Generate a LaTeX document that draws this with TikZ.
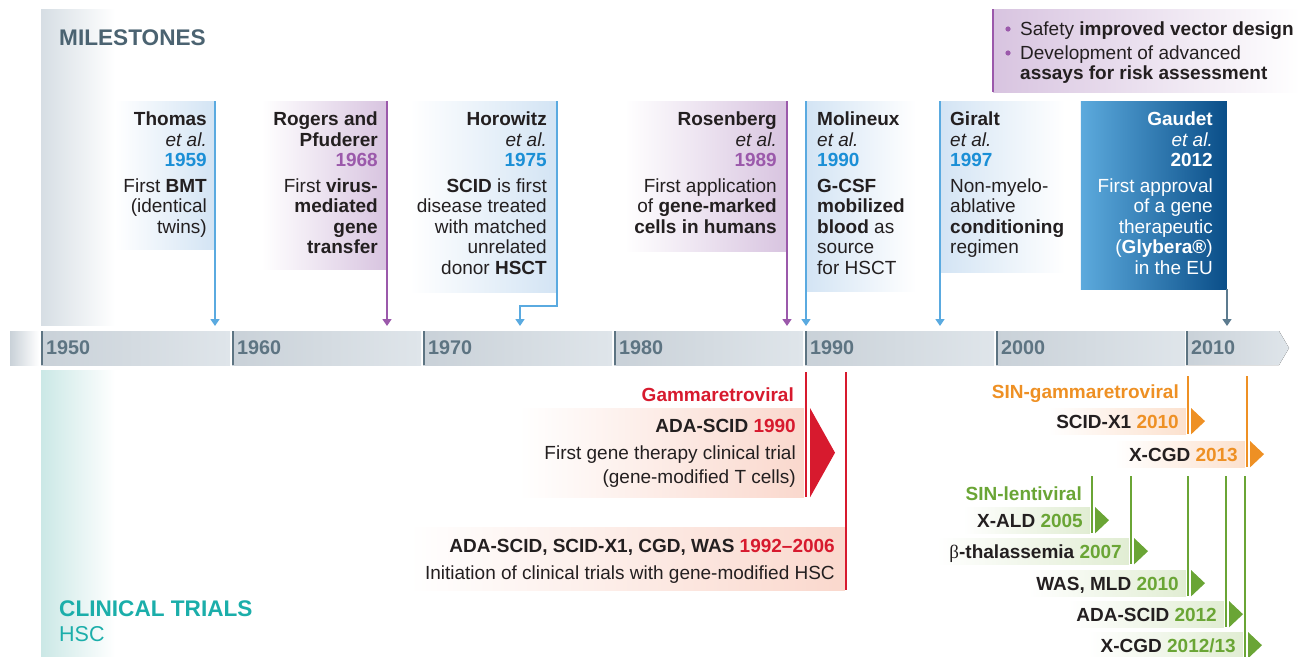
\documentclass[tikz,border=0pt]{standalone}
\usepackage{fontspec}
\setmainfont{Liberation Sans}
\newfontfamily\serifgreek{Liberation Serif}
\usepackage{xcolor}
\usetikzlibrary{calc}
\usetikzlibrary{arrows.meta}

\definecolor{msgray}{HTML}{D6DEE4}
\definecolor{mshead}{HTML}{4B6371}
\definecolor{msblue}{HTML}{5AAAE0}
\definecolor{msyear}{HTML}{1B8FD6}
\definecolor{msboxblue}{HTML}{D3E4F4}
\definecolor{mspurple}{HTML}{9B59AB}
\definecolor{msboxpurple}{HTML}{D8C4E0}
\definecolor{gaudetlight}{HTML}{5CAADD}
\definecolor{gaudetdark}{HTML}{0A4E88}
\definecolor{gaudetline}{HTML}{5C7B8F}
\definecolor{bargray}{HTML}{C9D1D8}
\definecolor{barlight}{HTML}{DFE5EA}
\definecolor{baryear}{HTML}{5D7482}
\definecolor{ctred}{HTML}{D71A2E}
\definecolor{ctsalmon}{HTML}{FAD8CD}
\definecolor{ctorange}{HTML}{EE9024}
\definecolor{ctpeach}{HTML}{FCE1CE}
\definecolor{ctgreen}{HTML}{6AA535}
\definecolor{ctlightgreen}{HTML}{E1EDD3}
\definecolor{ctteal}{HTML}{1BAEAA}
\definecolor{ctband}{HTML}{CBE8E6}
\definecolor{txt}{HTML}{231F20}

\begin{document}
\begin{tikzpicture}[x=1pt,y=-1pt,font=\fontsize{19}{20.5}\selectfont,text=txt]
\useasboundingbox (0,0) rectangle (1306,656);

\tikzset{
    msbox/.style = {
    inner sep=0pt,
    anchor=north east
    },
    msline/.style = {
    draw=#1,
    line width=1.6pt,
    -{Triangle[width=9pt,length=7pt]}
    }
}

\tikzstyle{mstext}=[inner sep=0pt, align=right, anchor=north east]
\tikzstyle{header}=[inner sep=0pt, anchor=west, font=\fontsize{22.6}{24}\selectfont\bfseries]
\tikzstyle{yearlbl}=[inner sep=0pt, anchor=west, text=baryear, font=\fontsize{19.8}{20}\selectfont\bfseries]
\tikzstyle{ctbox}=[inner sep=0pt, anchor=north east]
\tikzstyle{cttext}=[inner sep=0pt, align=right, font=\fontsize{19}{24}\selectfont]

\fill[left color=msgray, right color=white] (41,9) rectangle (115,325);
\fill[left color=ctband, right color=white] (41,370) rectangle (115,656);

\node[header, text=mshead] (milestones) at (59,38) {MILESTONES};
\node[header, text=ctteal] (clinical) at (59,609) {CLINICAL TRIALS};
\node[header, text=ctteal, font=\fontsize{21.5}{24}\selectfont] (hsc) at (59,634) {HSC};

\fill[left color=bargray, right color=white] (10,331) rectangle (39,365);
\foreach \yr [count=\k from 0] in {1950,1960,...,2000}{
    \fill[left color=bargray, right color=barlight] (41+191*\k,331) rectangle ++(189,34);
    \draw[baryear, line width=1.6pt] (41.8+191*\k,331) -- ++(0,34);
    \node[yearlbl] (y-\yr) at (46+191*\k,348) {\yr};
}
\fill[left color=bargray, right color=barlight] (1186,331) -- (1279,331) -- (1289,348) -- (1279,365) -- (1186,365) -- cycle;
\draw[baryear, line width=1.6pt] (1186.8,331) -- ++(0,34);
\node[yearlbl] (y-2010) at (1191,348) {2010};

\coordinate (t59) at (215,326);
\coordinate (t68) at (387,326);
\coordinate (t75) at (520,326);
\coordinate (t89) at (787,326);
\coordinate (t90) at (806,326);
\coordinate (t97) at (940,326);
\coordinate (t12) at (1227,326);

\node[msbox, left color=white, right color=msboxblue, minimum width=100, minimum height=148] (thomas) at (215,101) {};
\node[mstext] (thomas-txt) at ($(thomas.north east)+(-8,11)$) {\textbf{Thomas}\\\textit{et al.}\\\textbf{\textcolor{msyear}{1959}}\\[5pt]First \textbf{BMT}\\(identical\\twins)};
\draw[msline=msblue] (thomas.north east) -- (t59);

\node[msbox, left color=white, right color=msboxpurple, minimum width=125, minimum height=168] (rogers) at (387,101) {};
\node[mstext] (rogers-txt) at ($(rogers.north east)+(-9,11)$) {\textbf{Rogers and}\\\textbf{Pfuderer}\\\textbf{\textcolor{mspurple}{1968}}\\[5pt]First \textbf{virus-}\\\textbf{mediated}\\\textbf{gene}\\\textbf{transfer}};
\draw[msline=mspurple] (rogers.north east) -- (t68);

\node[msbox, left color=white, right color=msboxblue, minimum width=147, minimum height=191] (horowitz) at (557,101) {};
\node[mstext] (horowitz-txt) at ($(horowitz.north east)+(-10,11)$) {\textbf{Horowitz}\\\textit{et al.}\\\textbf{\textcolor{msyear}{1975}}\\[5pt]\textbf{SCID} is first\\disease treated\\with matched\\unrelated\\donor \textbf{HSCT}};
\draw[msline=msblue] (horowitz.north east) -- ++(0,205) -| (t75);

\node[msbox, left color=white, right color=msboxpurple, minimum width=162, minimum height=150] (rosenberg) at (787,101) {};
\node[mstext] (rosenberg-txt) at ($(rosenberg.north east)+(-10,11)$) {\textbf{Rosenberg}\\\textit{et al.}\\\textbf{\textcolor{mspurple}{1989}}\\[5pt]First application\\of \textbf{gene-marked}\\\textbf{cells in humans}};
\draw[msline=mspurple] (rosenberg.north east) -- (t89);

\node[msbox, anchor=north west, left color=msboxblue, right color=white, minimum width=110, minimum height=190] (molineux) at (806,101) {};
\node[mstext, anchor=north west, align=left] (molineux-txt) at ($(molineux.north west)+(11,11)$) {\textbf{Molineux}\\\textit{et al.}\\\textbf{\textcolor{msyear}{1990}}\\[5pt]\textbf{G-CSF}\\\textbf{mobilized}\\\textbf{blood} as\\source\\for HSCT};
\draw[msline=msblue] (molineux.north west) -- (t90);

\node[msbox, anchor=north west, left color=msboxblue, right color=white, minimum width=125, minimum height=171] (giralt) at (940,101) {};
\node[mstext, anchor=north west, align=left] (giralt-txt) at ($(giralt.north west)+(10,11)$) {\textbf{Giralt}\\\textit{et al.}\\\textbf{\textcolor{msyear}{1997}}\\[5pt]Non-myelo-\\ablative\\\textbf{conditioning}\\regimen};
\draw[msline=msblue] (giralt.north west) -- (t97);

\node[msbox, left color=gaudetlight, right color=gaudetdark, minimum width=146, minimum height=188] (gaudet) at (1227,101) {};
\node[mstext, text=white] (gaudet-txt) at ($(gaudet.north east)+(-14,11)$) {\textbf{Gaudet}\\\textit{et al.}\\\textbf{2012}\\[5pt]First approval\\of a gene\\therapeutic\\(\textbf{Glybera®})\\in the EU};
\draw[msline=gaudetline] (gaudet.south east) -- (t12);

\node[msbox, anchor=north west, left color=msboxpurple, right color=white, minimum width=307, minimum height=83] (safety) at (993,9) {};
\draw[mspurple, line width=2.5pt] (safety.north west) -- (safety.south west);
\node[mstext, anchor=north west, align=left] (safety-txt) at ($(safety.north west)+(27,13)$) {Safety \textbf{improved vector design}\\[3pt]Development of advanced\\\textbf{assays for risk assessment}};
\fill[mspurple] ($(safety.north west)+(15,20)$) circle (2.6);
\fill[mspurple] ($(safety.north west)+(15,44)$) circle (2.6);

\node[cttext, anchor=east, text=ctred] (gamma) at (794,395) {\textbf{Gammaretroviral}};
\coordinate (r90) at (806,372);
\node[ctbox, left color=white, right color=ctsalmon, minimum width=285, minimum height=89] (ada90) at (804,408) {};
\node[cttext, anchor=north east] (ada90-txt) at ($(ada90.north east)+(-8,11)$) {\textbf{ADA-SCID \textcolor{ctred}{1990}}\\[3pt]First gene therapy clinical trial\\(gene-modified T cells)};
\draw[ctred, line width=1.6pt] (r90) -- (r90 |- ada90.south);
\fill[ctred] ($(ada90.north east)+(6,0)$) -- ($(ada90.east)+(31,0)$) -- ($(ada90.south east)+(6,0)$) -- cycle;

\coordinate (r92) at (846,372);
\node[ctbox, left color=white, right color=ctsalmon, minimum width=436, minimum height=63] (ada92) at (845,527) {};
\node[cttext, anchor=north east] (ada92-txt) at ($(ada92.north east)+(-10,12)$) {\textbf{ADA-SCID, SCID-X1, CGD, WAS \textcolor{ctred}{1992--2006}}\\[3pt]Initiation of clinical trials with gene-modified HSC};
\draw[ctred, line width=1.6pt] (r92) -- (r92 |- ada92.south);

\node[cttext, anchor=east, text=ctorange] (sin-gamma) at (1179,394) {\textbf{SIN-gammaretroviral}};
\node[cttext, anchor=east, text=ctgreen] (sin-lenti) at (1082,494) {\textbf{SIN-lentiviral}};

\foreach \lx/\rt/\rw/\lt/\lbl/\yr/\c/\lc [count=\i] in {1188/408/138/376/SCID-X1/2010/ctorange/ctpeach,
    1247/441/130/376/X-CGD/2013/ctorange/ctpeach,
    1092/507/127/476/X-ALD/2005/ctgreen/ctlightgreen,
    1131/538/192/476/{\mdseries\serifgreek β}-thalassemia/2007/ctgreen/ctlightgreen,
    1188/570/158/476/{WAS, MLD}/2010/ctgreen/ctlightgreen,
    1226/601/156/476/ADA-SCID/2012/ctgreen/ctlightgreen,
    1245/632/155/476/X-CGD/{2012/13}/ctgreen/ctlightgreen}{
    \coordinate (top-\i) at (\lx,\lt);
    \node[ctbox, left color=white, right color=\lc, minimum width=\rw, minimum height=26] (ct-\i) at (\lx-2,\rt) {};
    \node[cttext, anchor=base east] (ct-\i-txt) at ($(ct-\i.east)+(-7,7)$) {\textbf{\lbl{} \textcolor{\c}{\yr}}};
    \draw[\c, line width=1.6pt] (top-\i) -- (top-\i |- ct-\i.south);
    \fill[\c] ($(ct-\i.north east)+(5,0)$) -- ($(ct-\i.east)+(19,0)$) -- ($(ct-\i.south east)+(5,0)$) -- cycle;
}

\end{tikzpicture}
\end{document}
